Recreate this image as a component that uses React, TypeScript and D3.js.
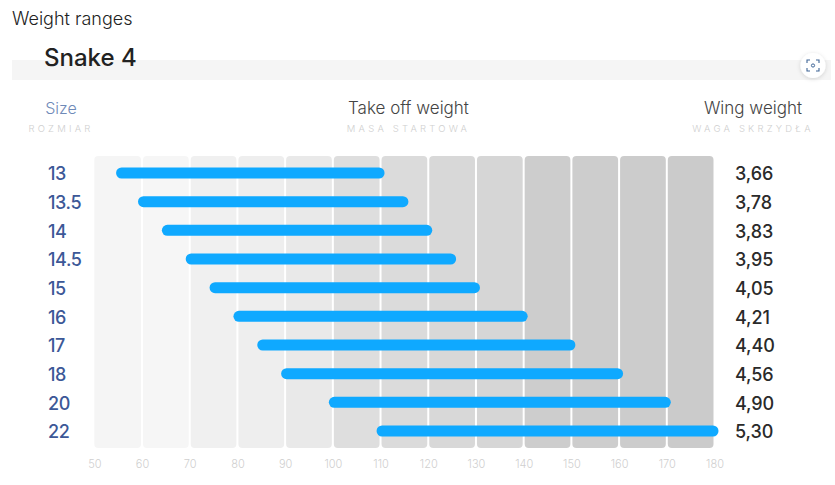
import React, { useEffect, useRef } from 'react';
import * as d3 from 'd3';

const sizes = ['13', '13.5', '14', '14.5', '15', '16', '17', '18', '20', '22'];
const minWeight = [55.4, 60, 65, 70, 75, 80, 85, 90, 100, 110];
const maxWeight = [110, 115, 120, 125, 130, 140, 150, 160, 170, 180];
const wingWeight = ['3,66', '3,78', '3,83', '3,95', '4,05', '4,21', '4,40', '4,56', '4,90', '5,30'];
const weightTicks = [50, 60, 70, 80, 90, 100, 110, 120, 130, 140, 150, 160, 170, 180];
const cellColors = ['#f5f5f5', '#f6f6f6', '#f0f0f0', '#eeeeee', '#e9e9e9', '#dedede', '#dbdbdb', '#d8d8d8', '#d6d6d6', '#cdcdcd', '#cdcdcd', '#cccccc', '#cbcbcb'];

const headers = [
  { title: 'Size', sub: 'ROZMIAR', x: 61, color: '#6f8ab8', size: 16 },
  { title: 'Take off weight', sub: 'MASA STARTOWA', x: 408.5, color: '#444444', size: 17 },
  { title: 'Wing weight', sub: 'WAGA SKRZYDŁA', x: 753, color: '#444444', size: 17 },
];

const FONT = 'Inter, "Noto Sans", sans-serif';

const App: React.FC = () => {
  const svgRef = useRef<SVGSVGElement>(null);

  useEffect(() => {
    if (!svgRef.current) return;
    const svg = d3.select(svgRef.current);
    svg.selectAll('*').remove();
    svg.attr('font-family', FONT);

    const x = d3.scaleLinear().domain([50, 180]).range([94.3, 714.5]);
    const y = d3.scalePoint<string>().domain(sizes).range([173, 431]);
    const barHeight = 11;
    const barOverhang = 4;

    const defs = svg.append('defs');
    const shadow = defs.append('filter').attr('id', 'iconShadow')
      .attr('x', '-50%').attr('y', '-50%').attr('width', '200%').attr('height', '200%');
    shadow.append('feDropShadow').attr('dx', 0).attr('dy', 1).attr('stdDeviation', 2)
      .attr('flood-color', '#000').attr('flood-opacity', 0.15);

    svg.append('text').attr('x', 12).attr('y', 25)
      .attr('font-size', 18).attr('font-weight', 300).attr('fill', '#222')
      .text('Weight ranges');

    svg.append('rect').attr('x', 12).attr('y', 60).attr('width', 819).attr('height', 20).attr('fill', '#f5f5f5');

    svg.append('text').attr('x', 44).attr('y', 66)
      .attr('font-size', 24).attr('font-weight', 500).attr('fill', '#222')
      .text('Snake 4');

    // screenshot button
    const icon = svg.append('g').attr('transform', 'translate(813,65.5)');
    icon.append('circle').attr('r', 12.5).attr('fill', '#fff').attr('filter', 'url(#iconShadow)');
    icon.append('path')
      .attr('d', 'M-6,-2.5V-5.5H-3M3,-5.5H6V-2.5M6,2.5V5.5H3M-3,5.5H-6V2.5')
      .attr('fill', 'none').attr('stroke', '#3f6596').attr('stroke-width', 1.1);
    icon.append('circle').attr('r', 1.6).attr('fill', 'none').attr('stroke', '#3f6596').attr('stroke-width', 1);

    const head = svg.append('g').attr('text-anchor', 'middle');
    head.selectAll('text.title').data(headers).enter().append('text')
      .attr('class', 'title').attr('x', d => d.x).attr('y', 114)
      .attr('font-size', d => d.size).attr('font-weight', 300).attr('fill', d => d.color)
      .text(d => d.title);
    head.selectAll('text.sub').data(headers).enter().append('text')
      .attr('class', 'sub').attr('x', d => d.x).attr('y', 132)
      .attr('font-size', 9.5).attr('font-weight', 300).attr('letter-spacing', 3.2).attr('fill', '#cfcfcf')
      .text(d => d.sub);

    svg.append('g').selectAll('rect').data(weightTicks.slice(0, -1)).enter().append('rect')
      .attr('x', d => x(d) + (d === 50 ? 0 : 1))
      .attr('y', 156)
      .attr('width', d => x(d + 10) - x(d) - (d === 50 ? 1 : 2))
      .attr('height', 292)
      .attr('rx', 4)
      .attr('fill', (_, i) => cellColors[i]);

    svg.append('g').selectAll('rect').data(sizes).enter().append('rect')
      .attr('x', (_, i) => x(minWeight[i]) - barOverhang)
      .attr('y', d => (y(d) as number) - barHeight / 2)
      .attr('width', (_, i) => x(maxWeight[i]) - x(minWeight[i]) + barOverhang * 2)
      .attr('height', barHeight)
      .attr('rx', barHeight / 2)
      .attr('fill', '#0fa9ff');

    svg.append('g').selectAll('text').data(sizes).enter().append('text')
      .attr('x', 48)
      .attr('y', d => y(d) as number)
      .attr('dy', '0.4em')
      .attr('font-size', 18).attr('font-weight', 500).attr('letter-spacing', -0.4).attr('fill', '#3c5897')
      .text(d => d);

    svg.append('g').selectAll('text').data(sizes).enter().append('text')
      .attr('x', 735)
      .attr('y', d => y(d) as number)
      .attr('dy', '0.4em')
      .attr('font-size', 18).attr('font-weight', 500).attr('letter-spacing', -0.1).attr('fill', '#2a2a2a')
      .text((_, i) => wingWeight[i]);

    const axis = svg.append('g')
      .attr('transform', 'translate(0,448)')
      .call(d3.axisBottom(x).tickValues(weightTicks).tickSize(0).tickPadding(12));
    axis.select('.domain').remove();
    axis.selectAll('text')
      .attr('font-family', FONT)
      .attr('font-size', 11)
      .attr('font-weight', 300)
      .attr('fill', '#cfcfcf');
  }, []);

  return (
    <svg
      ref={svgRef}
      width={835}
      height={485}
      style={{ position: 'absolute', left: 0, top: 0, background: '#fff' }}
    />
  );
};

export default App;
